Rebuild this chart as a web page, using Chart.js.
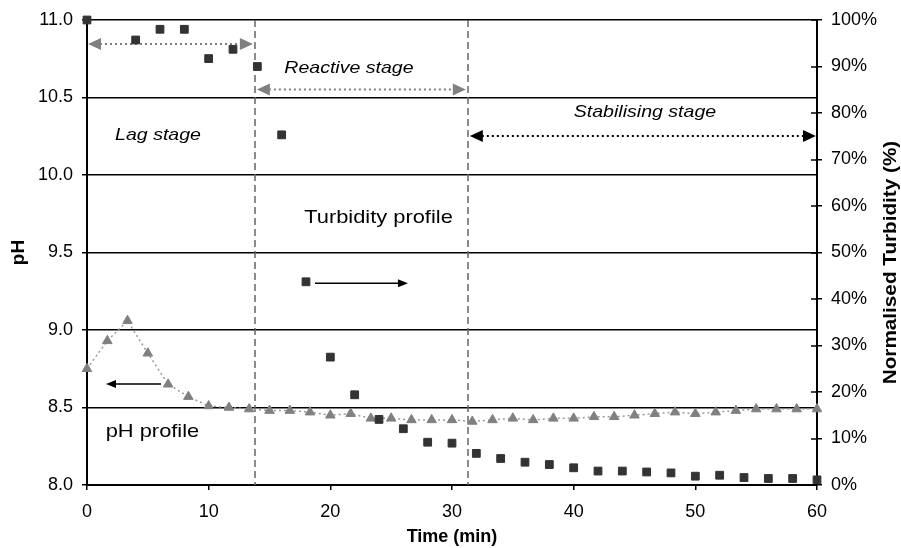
<!DOCTYPE html>
<html>
<head>
<meta charset="utf-8">
<title>pH and turbidity profiles</title>
<script src="https://cdn.jsdelivr.net/npm/chart.js@4.4.0/dist/chart.umd.min.js"></script>
<style>
  body { margin: 0; background: #fff; }
  #ChartProfiles { display: block; }
</style>
</head>
<body>
<canvas id="ChartProfiles" width="901" height="548"></canvas>
<script>
// turbidity samples: time (min) and turbidity normalised to the start value (%)
var turbTime = [0, 4, 6, 8, 10, 12, 14, 16, 18, 20, 22, 24, 26, 28, 30, 32, 34, 36, 38, 40, 42, 44, 46, 48, 50, 52, 54, 56, 58, 60];
var turbidity = [100, 95.7, 98, 98, 91.7, 93.7, 90, 75.3, 43.7, 27.5, 19.4, 14.1, 12.1, 9.2, 9.0, 6.8, 5.7, 4.9, 4.4, 3.7, 3.0, 3.0, 2.8, 2.6, 1.9, 2.1, 1.6, 1.4, 1.4, 1.1];

// pH readings: time (min) and pH
var phTime = [0, 1.67, 3.33, 5, 6.67, 8.33, 10, 11.67, 13.33, 15, 16.67, 18.33, 20, 21.67, 23.33, 25, 26.67, 28.33, 30, 31.67, 33.33, 35, 36.67, 38.33, 40, 41.67, 43.33, 45, 46.67, 48.33, 50, 51.67, 53.33, 55, 56.67, 58.33, 60];
var phValue = [8.75, 8.93, 9.06, 8.85, 8.65, 8.57, 8.51, 8.50, 8.49, 8.48, 8.48, 8.47, 8.45, 8.46, 8.43, 8.43, 8.42, 8.42, 8.42, 8.41, 8.42, 8.43, 8.42, 8.43, 8.43, 8.44, 8.44, 8.45, 8.46, 8.47, 8.46, 8.47, 8.48, 8.49, 8.49, 8.49, 8.49];

// axis ranges
var timeRange = [0, 60];
var phRange = [8, 11];
var turbRange = [0, 100];

// end of the lag stage and end of the reactive stage (min)
var stageBounds = [13.8, 31.3];

var FONT = '"Liberation Sans", Arial, sans-serif';

function toPoints(xs, ys) {
    return xs.map(function (t, i) { return { x: t, y: ys[i] }; });
}

// horizontal arrow from x1 to x2, heads optional at either end
function arrow(ctx, x1, x2, y, o) {
    ctx.save();
    ctx.strokeStyle = o.color;
    ctx.fillStyle = o.color;
    ctx.lineWidth = o.width;
    ctx.setLineDash(o.dotted ? [2, 3] : []);
    ctx.beginPath();
    ctx.moveTo(x1 + (o.start ? o.len - 1 : 0), y);
    ctx.lineTo(x2 - (o.end ? o.len - 1 : 0), y);
    ctx.stroke();
    ctx.setLineDash([]);
    if (o.start) {
        ctx.beginPath();
        ctx.moveTo(x1, y);
        ctx.lineTo(x1 + o.len, y - o.half);
        ctx.lineTo(x1 + o.len, y + o.half);
        ctx.closePath();
        ctx.fill();
    }
    if (o.end) {
        ctx.beginPath();
        ctx.moveTo(x2, y);
        ctx.lineTo(x2 - o.len, y - o.half);
        ctx.lineTo(x2 - o.len, y + o.half);
        ctx.closePath();
        ctx.fill();
    }
    ctx.restore();
}

// text slightly widened, as in the original figure
function label(ctx, text, px, py, font, angle) {
    ctx.save();
    ctx.translate(px, py);
    if (angle) ctx.rotate(angle);
    ctx.scale(1.15, 1);
    ctx.font = font + ' ' + FONT;
    ctx.fillStyle = '#000';
    ctx.textAlign = 'center';
    ctx.textBaseline = 'middle';
    ctx.fillText(text, 0, 0);
    ctx.restore();
}

var stagePlugin = {
    id: 'stages',
    beforeDatasetsDraw: function (chart) {
        var ctx = chart.ctx;
        var x = chart.scales.x, y = chart.scales.y, y2 = chart.scales.y2;
        var area = chart.chartArea;

        // stage boundaries
        ctx.save();
        ctx.strokeStyle = '#666';
        ctx.lineWidth = 1.5;
        ctx.setLineDash([7, 4]);
        stageBounds.forEach(function (t) {
            var px = Math.round(x.getPixelForValue(t));
            ctx.beginPath();
            ctx.moveTo(px, area.top);
            ctx.lineTo(px, area.bottom);
            ctx.stroke();
        });
        ctx.restore();

        // stage spans
        var gray = { color: '#808080', width: 2, dotted: true, start: true, end: true, len: 13, half: 6 };
        var black = { color: '#000', width: 2, dotted: true, start: true, end: true, len: 13, half: 6 };
        arrow(ctx, x.getPixelForValue(0) + 1, x.getPixelForValue(stageBounds[0]) - 2, y.getPixelForValue(10.845), gray);
        arrow(ctx, x.getPixelForValue(stageBounds[0]) + 2, x.getPixelForValue(stageBounds[1]) - 2, y.getPixelForValue(10.552), gray);
        arrow(ctx, x.getPixelForValue(stageBounds[1]) + 2, x.getPixelForValue(60) - 1, y.getPixelForValue(10.252), black);

        // series pointers
        arrow(ctx, x.getPixelForValue(18.74), x.getPixelForValue(26.38), y2.getPixelForValue(43.4),
            { color: '#000', width: 1.5, dotted: false, start: false, end: true, len: 10, half: 4 });
        arrow(ctx, x.getPixelForValue(1.56), x.getPixelForValue(6.08), y.getPixelForValue(8.652),
            { color: '#000', width: 1.5, dotted: false, start: true, end: false, len: 10, half: 4 });

        label(ctx, 'Lag stage', x.getPixelForValue(5.84), y.getPixelForValue(10.258), 'italic 17px');
        label(ctx, 'Reactive stage', x.getPixelForValue(21.53), y.getPixelForValue(10.69), 'italic 17px');
        label(ctx, 'Stabilising stage', x.getPixelForValue(45.86), y.getPixelForValue(10.406), 'italic 17px');
        label(ctx, 'Turbidity profile', x.getPixelForValue(23.96), y.getPixelForValue(9.723), '19px');
        label(ctx, 'pH profile', x.getPixelForValue(5.38), y.getPixelForValue(8.342), '19px');
    },
    afterDraw: function (chart) {
        var ctx = chart.ctx, y2 = chart.scales.y2, area = chart.chartArea;

        // right axis ticks cross the axis line
        ctx.save();
        ctx.strokeStyle = '#000';
        ctx.lineWidth = 1.5;
        ctx.beginPath();
        y2.ticks.forEach(function (tk) {
            var py = Math.round(y2.getPixelForValue(tk.value));
            ctx.moveTo(area.right - 6, py);
            ctx.lineTo(area.right, py);
        });
        ctx.stroke();
        ctx.restore();

        // right axis title, reading upwards
        label(ctx, 'Normalised Turbidity (%)', y2.right - 10, (area.top + area.bottom) / 2 + 10, 'bold 18px', -Math.PI / 2);
    }
};

var tickFont = { family: FONT, size: 18 };
var titleFont = { family: FONT, size: 18, weight: 'bold' };

var ctxP = document.getElementById("ChartProfiles").getContext('2d');
var profileChart = new Chart(ctxP, {
    type: 'scatter',
    data: {
        datasets: [{
            label: "Turbidity profile",
            data: toPoints(turbTime, turbidity),
            yAxisID: 'y2',
            pointStyle: 'rect',
            pointRadius: 5.5,
            pointBackgroundColor: '#333333',
            pointBorderColor: '#333333',
            pointBorderWidth: 1,
            showLine: false,
            clip: false
        },
        {
            label: "pH profile",
            data: toPoints(phTime, phValue),
            yAxisID: 'y',
            pointStyle: 'triangle',
            pointRadius: 5.5,
            pointBackgroundColor: '#808080',
            pointBorderColor: '#808080',
            pointBorderWidth: 1,
            showLine: true,
            borderColor: '#9a9a9a',
            borderWidth: 1.5,
            borderDash: [2, 3],
            clip: false
        }]
    },
    options: {
        responsive: false,
        animation: false,
        layout: { padding: { top: 20, left: 0, right: 0, bottom: 0 } },
        plugins: {
            legend: { display: false },
            tooltip: { enabled: false }
        },
        scales: {
            x: {
                type: 'linear',
                min: timeRange[0],
                max: timeRange[1],
                afterFit: function (s) { s.height = 63; },
                ticks: { stepSize: 10, color: '#000', font: tickFont, padding: 11 },
                grid: { drawOnChartArea: false, color: '#000', lineWidth: 1.5, tickLength: 5 },
                border: { color: '#000', width: 2 },
                title: { display: true, text: 'Time (min)', color: '#000', font: titleFont, padding: { top: 0, bottom: 0 } }
            },
            y: {
                position: 'left',
                min: phRange[0],
                max: phRange[1],
                afterFit: function (s) { s.width = 87; },
                ticks: {
                    stepSize: 0.5, color: '#000', font: tickFont, padding: 9,
                    callback: function (v) { return v.toFixed(1); }
                },
                grid: { color: '#000', lineWidth: 1.5, tickLength: 5 },
                border: { color: '#000', width: 2 },
                title: { display: true, text: 'pH', color: '#000', font: { family: FONT, size: 19, weight: 'bold' }, padding: { top: 7, bottom: 0 } }
            },
            y2: {
                position: 'right',
                min: turbRange[0],
                max: turbRange[1],
                afterFit: function (s) { s.width = 84; },
                ticks: {
                    stepSize: 10, color: '#000', font: tickFont, padding: 9,
                    callback: function (v) { return v + '%'; }
                },
                grid: { drawOnChartArea: false, color: '#000', lineWidth: 1.5, tickLength: 5 },
                border: { color: '#000', width: 2 }
            }
        }
    },
    plugins: [stagePlugin]
});
</script>
</body>
</html>
